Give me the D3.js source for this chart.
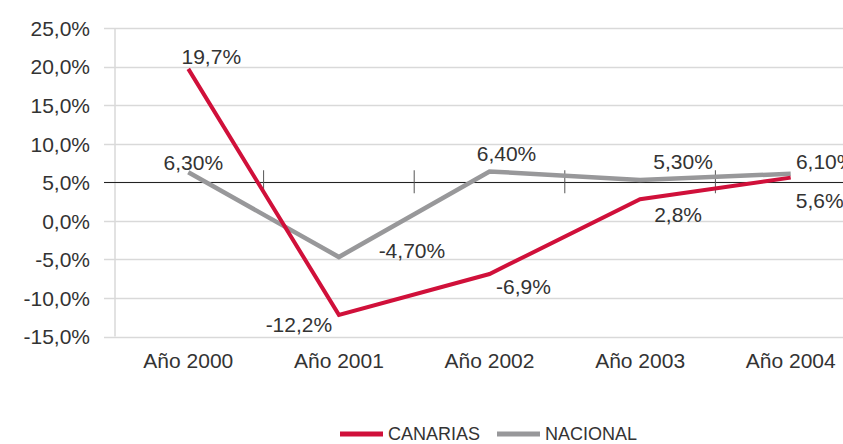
<!DOCTYPE html>
<html><head><meta charset="utf-8">
<script src="https://cdn.jsdelivr.net/npm/d3@7"></script>
<style>
html,body{margin:0;padding:0;background:#fff;overflow:hidden}
text{font-family:"Liberation Sans Narrow","Arial Narrow","Liberation Sans",sans-serif;fill:#333}
</style></head><body>
<svg id="c" width="843" height="444"></svg>
<script>
const categories = ["Año 2000","Año 2001","Año 2002","Año 2003","Año 2004"];
const canarias = [19.7, -12.2, -6.9, 2.8, 5.6];
const nacional = [6.3, -4.7, 6.4, 5.3, 6.1];
const canariasLabels = ["19,7%","-12,2%","-6,9%","2,8%","5,6%"];
const nacionalLabels = ["6,30%","-4,70%","6,40%","5,30%","6,10%"];
const yTicks = [-15,-10,-5,0,5,10,15,20,25];
const seriesNames = ["CANARIAS","NACIONAL"];

const svg = d3.select("#c");
const W = 843;
const x = d3.scaleBand().domain(categories).range([113, 866]);
const y = d3.scaleLinear().domain([-15,25]).range([336.5, 28]);
const fmt = v => v.toFixed(1).replace(".", ",") + "%";
const red = "#D0103A", gray = "#98989A";

// gridlines
svg.append("g").selectAll("line").data(yTicks).join("line")
  .attr("x1",104).attr("x2",W).attr("y1",d=>Math.round(y(d))+0.5).attr("y2",d=>Math.round(y(d))+0.5)
  .attr("stroke","#d9d9d9").attr("stroke-width",1.5);
// vertical axis line
svg.append("line").attr("x1",115).attr("x2",115).attr("y1",y(25)).attr("y2",y(-15))
  .attr("stroke","#d9d9d9").attr("stroke-width",1.5);
// y labels
const ya = d3.axisLeft(y).tickValues(yTicks).tickFormat(fmt).tickSize(0).tickPadding(0);
const yg = svg.append("g").attr("transform","translate(90,0)").call(ya);
yg.select(".domain").remove();
yg.selectAll("text").style("font-size","21px").attr("dy","0.35em");

// category axis at 5%
svg.append("line").attr("x1",104).attr("x2",W).attr("y1",Math.round(y(5))+0.5).attr("y2",Math.round(y(5))+0.5)
  .attr("stroke","#222").attr("stroke-width",1);
svg.append("g").selectAll("line").data(categories.slice(1)).join("line")
  .attr("x1",d=>x(d)).attr("x2",d=>x(d)).attr("y1",y(5)-12).attr("y2",y(5)+11)
  .attr("stroke","#555").attr("stroke-width",1);
// category labels
const xa = d3.axisBottom(x).tickSize(0).tickPadding(0);
const xg = svg.append("g").attr("transform","translate(0,352)").call(xa);
xg.select(".domain").remove();
xg.selectAll("text").style("font-size","21px").attr("dy","0.78em");

const line = d3.line().x((d,i)=>x(categories[i])+x.bandwidth()/2).y(d=>y(d));
svg.append("path").datum(nacional).attr("d",line).attr("fill","none").attr("stroke",gray).attr("stroke-width",4.5);
svg.append("path").datum(canarias).attr("d",line).attr("fill","none").attr("stroke",red).attr("stroke-width",4);

// data labels (offsets relative to points)
const cOff = [[23,-12],[-40,10],[34,13],[38,15],[29,23]];
const nOff = [[5,-10],[73,-6],[17,-18],[43,-18],[35,-12]];
function labels(vals, labs, off){
  svg.append("g").selectAll("text").data(vals).join("text")
    .attr("x",(d,i)=>x(categories[i])+x.bandwidth()/2+off[i][0])
    .attr("y",(d,i)=>y(d)+off[i][1])
    .attr("text-anchor","middle").attr("dy","0.35em")
    .style("font-size","21px").text((d,i)=>labs[i]);
}
labels(canarias, canariasLabels, cOff);
labels(nacional, nacionalLabels, nOff);

// legend
const lg = svg.append("g");
const items = [{n:seriesNames[0],c:red,x:340},{n:seriesNames[1],c:gray,x:497}];
items.forEach(it=>{
  lg.append("line").attr("x1",it.x).attr("x2",it.x+43).attr("y1",434).attr("y2",434).attr("stroke",it.c).attr("stroke-width",5);
  lg.append("text").attr("x",it.x+48).attr("y",434).attr("dy","0.35em").style("font-size","18px").text(it.n);
});
</script></body></html>
